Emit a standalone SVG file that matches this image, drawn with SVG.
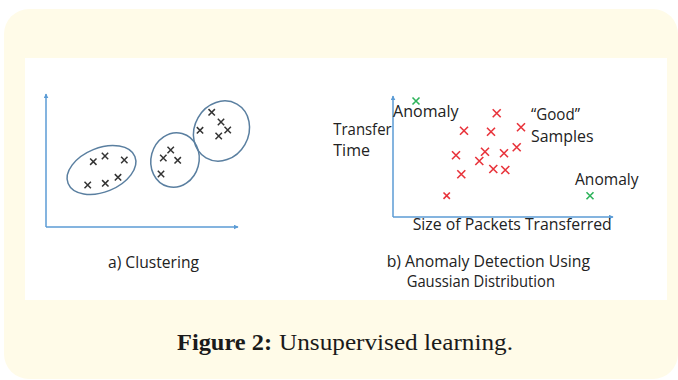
<svg xmlns="http://www.w3.org/2000/svg" width="678" height="380" viewBox="0 0 678 380">
  <style>
    .lbl { font-family: "Open Sans", "Liberation Sans", sans-serif; font-size: 16px; fill: #222; }
    .axis { stroke: #5b9bd5; stroke-width: 1.5; fill: none; }
    .ring { stroke: #5a7fa0; stroke-width: 1.5; fill: none; }
    .xk { stroke: #333; stroke-width: 1.5; fill: none; }
    .xr { stroke: #e8333b; stroke-width: 1.6; fill: none; }
    .xg { stroke: #2db35a; stroke-width: 1.6; fill: none; }
    .cap { font-family: "Liberation Serif", "DejaVu Serif", serif; font-size: 24px; fill: #1a1a1a; }
  </style>
  <defs>
    <marker id="tip" viewBox="0 0 8 8" refX="7" refY="4" markerWidth="5" markerHeight="5" orient="auto" markerUnits="userSpaceOnUse">
      <path d="M0,0L8,4L0,8Z" fill="#5b9bd5"/>
    </marker>
    <path id="xs" d="M-3.2,-3.2L3.2,3.2M3.2,-3.2L-3.2,3.2"/>
    <path id="xl" d="M-4,-4L4,4M4,-4L-4,4"/>
    <path id="xm" d="M-3.5,-3.5L3.5,3.5M3.5,-3.5L-3.5,3.5"/>
  </defs>

  <!-- page frame -->
  <rect x="4" y="9" width="674" height="370" rx="25" fill="#fffbe8"/>
  <rect x="25" y="58" width="642" height="242" fill="#ffffff"/>

  <!-- plot axes -->
  <g id="connectors">
    <path class="axis" d="M46,227V94" marker-end="url(#tip)"/>
    <path class="axis" d="M46,227H238" marker-end="url(#tip)"/>
    <path class="axis" d="M393,217V96" marker-end="url(#tip)"/>
    <path class="axis" d="M393,217H613" marker-end="url(#tip)"/>
  </g>

  <!-- a) clustering -->
  <g id="cluster-1">
    <ellipse class="ring" cx="101.5" cy="170" rx="36" ry="22" transform="rotate(-22 101.5 170)"/>
    <g class="xk">
      <use href="#xs" x="93.3" y="161.7"/><use href="#xs" x="105" y="156"/><use href="#xs" x="124.3" y="160"/>
      <use href="#xs" x="87.7" y="185"/><use href="#xs" x="105.3" y="183.3"/><use href="#xs" x="118" y="177.3"/>
    </g>
  </g>
  <g id="cluster-2">
    <ellipse class="ring" cx="175" cy="160" rx="24" ry="27.5" transform="rotate(15 175 160)"/>
    <g class="xk">
      <use href="#xs" x="170.7" y="150"/><use href="#xs" x="163.3" y="158"/>
      <use href="#xs" x="177.7" y="160.3"/><use href="#xs" x="161" y="174"/>
    </g>
  </g>
  <g id="cluster-3">
    <ellipse class="ring" cx="221.5" cy="131" rx="27" ry="31" transform="rotate(30 221.5 131)"/>
    <g class="xk">
      <use href="#xs" x="211.7" y="112.3"/><use href="#xs" x="221" y="122"/><use href="#xs" x="200" y="130.3"/>
      <use href="#xs" x="227.7" y="130"/><use href="#xs" x="218.7" y="136"/>
    </g>
  </g>
  <g id="label-a">
    <text class="lbl" x="108" y="268" textLength="91" lengthAdjust="spacingAndGlyphs">a) Clustering</text>
  </g>

  <!-- b) anomaly detection -->
  <g id="good-samples">
    <g class="xr">
      <use href="#xl" x="496.7" y="113.3"/><use href="#xl" x="464" y="130.7"/><use href="#xl" x="491" y="131.7"/>
      <use href="#xl" x="521" y="127.3"/><use href="#xl" x="516.7" y="147.3"/><use href="#xl" x="456" y="155.3"/>
      <use href="#xl" x="485" y="151.7"/><use href="#xl" x="504" y="153.3"/><use href="#xl" x="479.3" y="161"/>
      <use href="#xl" x="461.3" y="174.3"/><use href="#xl" x="493.3" y="169"/><use href="#xl" x="505.3" y="170"/>
      <use href="#xs" x="446.7" y="195.7"/>
    </g>
    <text class="lbl" x="531" y="120" textLength="49" lengthAdjust="spacingAndGlyphs">“Good”</text>
    <text class="lbl" x="531" y="141.7" textLength="62.5" lengthAdjust="spacingAndGlyphs">Samples</text>
  </g>
  <g id="anomaly-top">
    <use class="xg" href="#xm" x="416" y="101"/>
    <text class="lbl" x="393" y="117.3" textLength="65.5" lengthAdjust="spacingAndGlyphs">Anomaly</text>
  </g>
  <g id="anomaly-right">
    <use class="xg" href="#xm" x="590" y="195.7"/>
    <text class="lbl" x="575" y="185" textLength="63.5" lengthAdjust="spacingAndGlyphs">Anomaly</text>
  </g>
  <g id="axis-labels-b">
    <text class="lbl" x="333.3" y="135" textLength="58.3" lengthAdjust="spacingAndGlyphs">Transfer</text>
    <text class="lbl" x="333.3" y="156" textLength="36.7" lengthAdjust="spacingAndGlyphs">Time</text>
    <text class="lbl" x="412.7" y="230" textLength="199" lengthAdjust="spacingAndGlyphs">Size of Packets Transferred</text>
  </g>
  <g id="label-b">
    <text class="lbl" x="386.7" y="267" textLength="203.3" lengthAdjust="spacingAndGlyphs">b) Anomaly Detection Using</text>
    <text class="lbl" x="406.7" y="287" textLength="148.3" lengthAdjust="spacingAndGlyphs">Gaussian Distribution</text>
  </g>

  <!-- caption -->
  <g id="caption">
    <text class="cap" x="177" y="350" font-weight="bold" textLength="95" lengthAdjust="spacingAndGlyphs">Figure 2:</text>
    <text class="cap" x="279" y="350" textLength="234" lengthAdjust="spacingAndGlyphs">Unsupervised learning.</text>
  </g>
</svg>
